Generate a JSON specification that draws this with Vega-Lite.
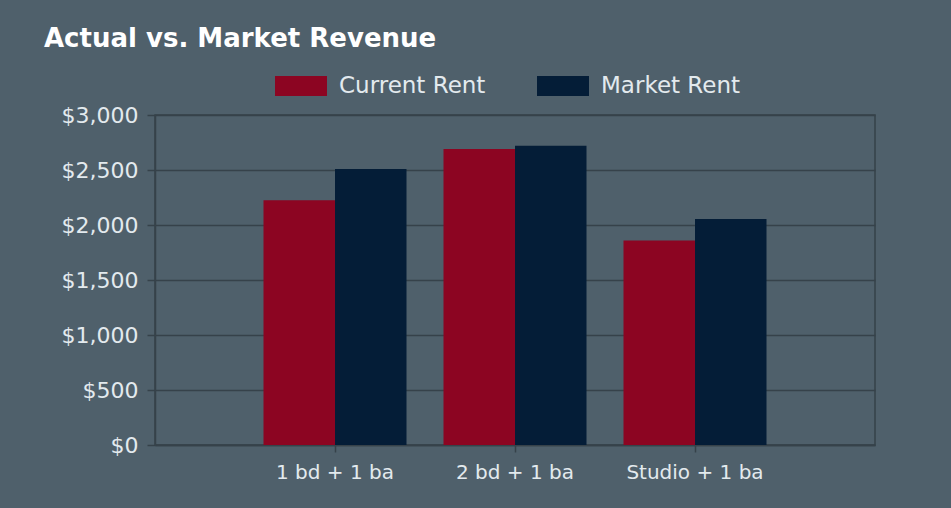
{
  "$schema": "https://vega.github.io/schema/vega-lite/v6.json",
  "width": 720,
  "height": 330,
  "autosize": {"type": "none"},
  "padding": {"left": 155, "top": 115, "right": 76, "bottom": 63},
  "background": "#4f606b",
  "title": {
    "text": "Actual vs. Market Revenue",
    "anchor": "start",
    "frame": "group",
    "dx": -111,
    "font": "DejaVu Sans",
    "fontWeight": "bold",
    "fontSize": 26,
    "color": "#ffffff",
    "offset": 8
  },
  "data": {
    "values": [
      {"unit": "1  bd + 1 ba", "series": "Current Rent", "rent": 2225},
      {"unit": "1  bd + 1 ba", "series": "Market Rent", "rent": 2510},
      {"unit": "2  bd + 1 ba", "series": "Current Rent", "rent": 2690},
      {"unit": "2  bd + 1 ba", "series": "Market Rent", "rent": 2720},
      {"unit": "Studio + 1 ba", "series": "Current Rent", "rent": 1860},
      {"unit": "Studio + 1 ba", "series": "Market Rent", "rent": 2055}
    ]
  },
  "mark": {"type": "bar"},
  "encoding": {
    "x": {
      "field": "unit",
      "type": "nominal",
      "sort": ["1  bd + 1 ba", "2  bd + 1 ba", "Studio + 1 ba"],
      "scale": {"paddingInner": 0.2056, "paddingOuter": 0.6028},
      "axis": {
        "title": null,
        "labelAngle": 0,
        "labelFont": "DejaVu Sans",
        "labelFontSize": 20,
        "labelColor": "#e3eaee",
        "labelPadding": 10,
        "domainColor": "#36424a",
        "domainWidth": 1.5,
        "tickColor": "#36424a",
        "tickSize": 7,
        "tickWidth": 1.5
      }
    },
    "xOffset": {"field": "series", "sort": ["Current Rent", "Market Rent"]},
    "y": {
      "field": "rent",
      "type": "quantitative",
      "scale": {"domain": [0, 3000]},
      "axis": {
        "title": null,
        "values": [0, 500, 1000, 1500, 2000, 2500, 3000],
        "format": "$,.0f",
        "labelFont": "DejaVu Sans",
        "labelFontSize": 22,
        "labelColor": "#e3eaee",
        "labelPadding": 9,
        "domainColor": "#36424a",
        "domainWidth": 1.5,
        "tickColor": "#36424a",
        "tickSize": 8,
        "tickWidth": 1.5,
        "gridColor": "#36424a",
        "gridWidth": 1.5,
        "gridOpacity": 1
      }
    },
    "color": {
      "field": "series",
      "type": "nominal",
      "scale": {"domain": ["Current Rent", "Market Rent"], "range": ["#8c0522", "#041d37"]},
      "legend": {
        "title": null,
        "orient": "none",
        "direction": "horizontal",
        "legendX": 120,
        "legendY": -55,
        "symbolType": "M-1,-0.385L1,-0.385L1,0.385L-1,0.385Z",
        "symbolSize": 2704,
        "symbolStrokeWidth": 0,
        "symbolOpacity": 1,
        "labelFont": "DejaVu Sans",
        "labelFontSize": 23,
        "labelColor": "#e3eaee",
        "labelOffset": 12,
        "columnPadding": 51,
        "padding": 0
      }
    }
  },
  "config": {
    "view": {"stroke": "#36424a", "strokeWidth": 1.5}
  }
}
